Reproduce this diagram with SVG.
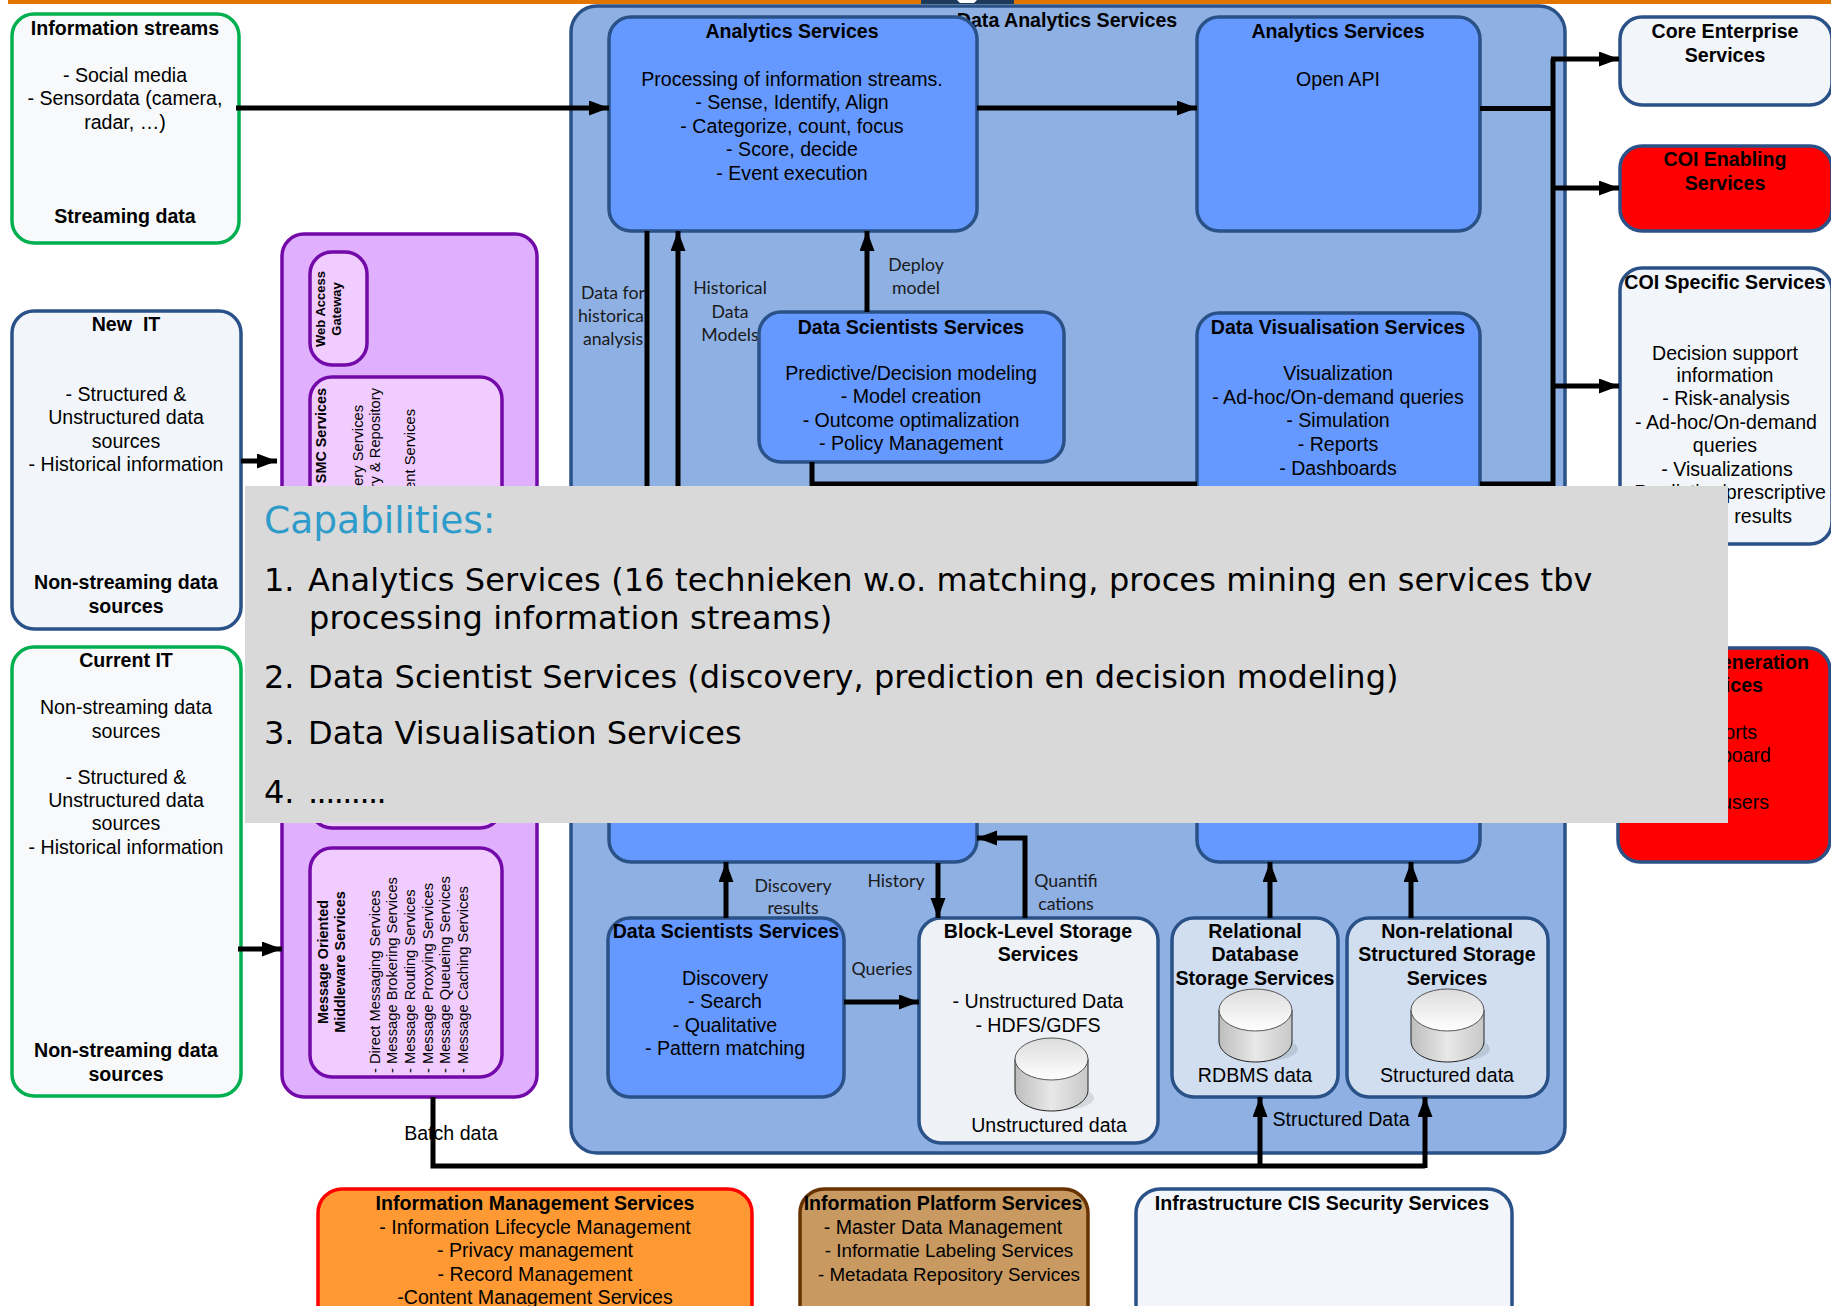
<svg xmlns="http://www.w3.org/2000/svg" width="1831" height="1306" viewBox="0 0 1831 1306">
<style>
text{font-family:"Liberation Sans",Arial,sans-serif;font-size:19.6px;fill:#000;text-anchor:middle}
.b{font-weight:bold;font-size:19.6px}
.e{text-anchor:end}
.l{font-family:Lato,"Liberation Sans",sans-serif;font-size:17.7px;fill:#1a1a1a}
.rb{font-weight:bold;font-size:14.4px}
.rr{font-size:14.7px;text-anchor:start}
.rt{text-anchor:end}
.box{stroke:#2A5288;stroke-width:3.5}
.blue{fill:#6699FF}
.pale{fill:#F2F6FA}
.lp{fill:#F0CCFF;stroke:#7209A8;stroke-width:3.5}
.conn{fill:none;stroke:#000;stroke-width:5}
.ar{marker-end:url(#ah)}
.cap{font-family:"DejaVu Sans",Verdana,sans-serif;text-anchor:start;font-size:32px;fill:#000}
.tight{font-size:18.8px}
</style>
<defs>
<marker id="ah" markerUnits="userSpaceOnUse" markerWidth="21" markerHeight="16" refX="20" refY="7.5" orient="auto"><path d="M0 0L20 7.500L0 15z" fill="#000"/></marker>
<linearGradient id="cb" x1="0" x2="1" y1="0" y2="0"><stop offset="0" stop-color="#bdbdbd"/><stop offset=".5" stop-color="#e8e8e8"/><stop offset="1" stop-color="#c8c8c8"/></linearGradient>
<linearGradient id="ct" x1="0" x2="0" y1="0" y2="1"><stop offset="0" stop-color="#dcdcdc"/><stop offset="1" stop-color="#ffffff"/></linearGradient>
<g id="cyl">
<ellipse cx="46" cy="60" rx="33" ry="12" fill="#000" opacity=".1"/>
<path d="M0 21V52C0 64 16 73 36.500 73S73 64 73 52V21z" fill="url(#cb)" stroke="#222" stroke-width="1"/>
<ellipse cx="36.500" cy="21" rx="36.500" ry="21" fill="url(#ct)" stroke="#555" stroke-width="1"/>
</g>
</defs>
<rect id="top-bar" x="8" y="0" width="1823" height="4" fill="#E27400"/>
<g id="logo"><rect x="921" y="0" width="93" height="4" fill="#1C3B5A"/><path d="M957 0h20l-3 3h-14z" fill="#fff"/></g>

<g id="information-streams"><rect x="12" y="14" width="227" height="229" rx="22" fill="#F7F9FB" stroke="#00B050" stroke-width="3.500"/>
<text x="125" y="35" class="b">Information streams</text><text x="125" y="82">- Social media</text><text x="125" y="105">- Sensordata (camera,</text><text x="125" y="129">radar, …)</text><text x="125" y="223" class="b">Streaming data</text></g>

<g id="new-it"><rect x="12" y="311" width="229" height="318" rx="22" class="box pale"/>
<text x="126" y="331" class="b" xml:space="preserve">New  IT</text><text x="126" y="401">- Structured &amp;</text><text x="126" y="424">Unstructured data</text><text x="126" y="448">sources</text><text x="126" y="471">- Historical information</text><text x="126" y="589" class="b">Non-streaming data</text><text x="126" y="613" class="b">sources</text></g>

<g id="current-it"><rect x="12" y="647" width="229" height="449" rx="22" fill="#F7F9FB" stroke="#00B050" stroke-width="3.500"/>
<text x="126" y="667" class="b">Current IT</text><text x="126" y="714">Non-streaming data</text><text x="126" y="738">sources</text><text x="126" y="784">- Structured &amp;</text><text x="126" y="807">Unstructured data</text><text x="126" y="830">sources</text><text x="126" y="854">- Historical information</text><text x="126" y="1057" class="b">Non-streaming data</text><text x="126" y="1081" class="b">sources</text></g>

<g id="middleware"><rect x="282" y="234" width="255" height="863" rx="22" fill="#E0B0FF" stroke="#7209A8" stroke-width="3.500"/></g>
<g id="web-access-gateway"><rect x="310" y="252" width="57" height="113" rx="22" class="lp"/>
<text transform="translate(325 309) rotate(-90)" class="rb" style="font-size:13px">Web Access</text><text transform="translate(341 309) rotate(-90)" class="rb" style="font-size:13px">Gateway</text></g>
<g id="smc-services"><rect x="310" y="377" width="192" height="451" rx="22" class="lp"/>
<text transform="translate(326 388) rotate(-90)" class="rb rt">SMC Services</text><text transform="translate(363 405) rotate(-90)" class="rr rt">ery Services</text><text transform="translate(380 388) rotate(-90)" class="rr rt">ry &amp; Repository</text><text transform="translate(415 409) rotate(-90)" class="rr rt">ent Services</text></g>
<g id="message-oriented-middleware"><rect x="310" y="848" width="192" height="229" rx="22" class="lp"/>
<text transform="translate(328 962) rotate(-90)" class="rb">Message Oriented</text><text transform="translate(345 962) rotate(-90)" class="rb">Middleware Services</text>
<text transform="translate(380 1073) rotate(-90)" class="rr">- Direct Messaging Services</text><text transform="translate(397 1073) rotate(-90)" class="rr">- Message Brokering Services</text><text transform="translate(415 1073) rotate(-90)" class="rr">- Message Routing Services</text><text transform="translate(433 1073) rotate(-90)" class="rr">- Message Proxying Services</text><text transform="translate(450 1073) rotate(-90)" class="rr">- Message Queueing Services</text><text transform="translate(468 1073) rotate(-90)" class="rr">- Message Caching Services</text></g>

<g id="data-analytics-services"><rect x="571" y="6" width="994" height="1147" rx="26" fill="#8EB0E3" class="box"/>
<text x="1067" y="27" class="b">Data Analytics Services</text></g>

<g id="edge-labels">
<text x="613" y="299" class="l">Data for</text><text x="613" y="322" class="l">historical</text><text x="613" y="345" class="l">analysis</text>
<text x="730" y="294" class="l">Historical</text><text x="730" y="318" class="l">Data</text><text x="730" y="341" class="l">Models</text>
<text x="916" y="271" class="l">Deploy</text><text x="916" y="294" class="l">model</text>
<text x="793" y="892" class="l">Discovery</text><text x="793" y="914" class="l">results</text>
<text x="896" y="887" class="l">History</text>
<text x="1066" y="887" class="l">Quantifi</text><text x="1066" y="910" class="l">cations</text>
<text x="882" y="975" class="l">Queries</text>
<text x="1341" y="1126">Structured Data</text>
<text x="451" y="1140">Batch data</text>
</g>

<g id="analytics-services-1"><rect x="609" y="17" width="368" height="214" rx="22" class="box blue"/>
<text x="792" y="38" class="b">Analytics Services</text><text x="792" y="86">Processing of information streams.</text><text x="792" y="109">- Sense, Identify, Align</text><text x="792" y="133">- Categorize, count, focus</text><text x="792" y="156">- Score, decide</text><text x="792" y="180">- Event execution</text></g>
<g id="analytics-services-2"><rect x="1197" y="17" width="283" height="214" rx="22" class="box blue"/>
<text x="1338" y="38" class="b">Analytics Services</text><text x="1338" y="86">Open API</text></g>
<g id="data-scientists-services-1"><rect x="759" y="312" width="305" height="150" rx="22" class="box blue"/>
<text x="911" y="334" class="b">Data Scientists Services</text><text x="911" y="380">Predictive/Decision modeling</text><text x="911" y="403">- Model creation</text><text x="911" y="427">- Outcome optimalization</text><text x="911" y="450">- Policy Management</text></g>
<g id="data-visualisation-services"><rect x="1197" y="313" width="283" height="220" rx="22" class="box blue"/>
<text x="1338" y="334" class="b">Data Visualisation Services</text><text x="1338" y="380">Visualization</text><text x="1338" y="404">- Ad-hoc/On-demand queries</text><text x="1338" y="427">- Simulation</text><text x="1338" y="451">- Reports</text><text x="1338" y="475">- Dashboards</text></g>
<g id="lower-blue-left"><rect x="609" y="740" width="368" height="122" rx="22" class="box blue"/></g>
<g id="lower-blue-right"><rect x="1197" y="740" width="283" height="122" rx="22" class="box blue"/></g>

<g id="data-scientists-services-2"><rect x="608" y="918" width="236" height="179" rx="22" class="box blue"/>
<text x="726" y="938" class="b">Data Scientists Services</text><text x="725" y="985">Discovery</text><text x="725" y="1008">- Search</text><text x="725" y="1032">- Qualitative</text><text x="725" y="1055">- Pattern matching</text></g>
<g id="block-level-storage"><rect x="919" y="918" width="239" height="225" rx="22" fill="#EEF1F6" class="box"/>
<text x="1038" y="938" class="b">Block-Level Storage</text><text x="1038" y="961" class="b">Services</text><text x="1038" y="1008">- Unstructured Data</text><text x="1038" y="1032">- HDFS/GDFS</text><use href="#cyl" x="1015" y="1038"/><text x="1049" y="1132">Unstructured data</text></g>
<g id="relational-database"><rect x="1172" y="918" width="166" height="179" rx="22" fill="#D0DEF0" class="box"/>
<text x="1255" y="938" class="b">Relational</text><text x="1255" y="961" class="b">Database</text><text x="1255" y="985" class="b">Storage Services</text><use href="#cyl" x="1219" y="989"/><text x="1255" y="1082">RDBMS data</text></g>
<g id="non-relational-storage"><rect x="1347" y="918" width="201" height="179" rx="22" fill="#D0DEF0" class="box"/>
<text x="1447" y="938" class="b">Non-relational</text><text x="1447" y="961" class="b">Structured Storage</text><text x="1447" y="985" class="b">Services</text><use href="#cyl" x="1411" y="989"/><text x="1447" y="1082">Structured data</text></g>

<g id="core-enterprise"><rect x="1620" y="17" width="212" height="88" rx="22" class="box pale"/>
<text x="1725" y="38" class="b">Core Enterprise</text><text x="1725" y="62" class="b">Services</text></g>
<g id="coi-enabling"><rect x="1620" y="146" width="212" height="85" rx="22" fill="#FF0000" class="box"/>
<text x="1725" y="166" class="b">COI Enabling</text><text x="1725" y="190" class="b">Services</text></g>
<g id="coi-specific"><rect x="1620" y="268" width="212" height="276" rx="22" class="box pale"/>
<text x="1725" y="289" class="b">COI Specific Services</text><text x="1725" y="360">Decision support</text><text x="1725" y="382">information</text><text x="1726" y="405">- Risk-analysis</text><text x="1726" y="429">- Ad-hoc/On-demand</text><text x="1725" y="452">queries</text><text x="1727" y="476">- Visualizations</text><text x="1826" y="499" class="e">- Predictive/prescriptive</text><text x="1792" y="523" class="e">results</text></g>
<g id="generation-services"><rect x="1618" y="648" width="212" height="214" rx="22" fill="#FF0000" class="box"/>
<text x="1809" y="669" class="b e">Generation</text><text x="1763" y="692" class="b e">Services</text><text x="1757" y="739" class="e">Reports</text><text x="1771" y="762" class="e">Dashboard</text><text x="1769" y="809" class="e">users</text></g>

<g id="information-management"><rect x="318" y="1189" width="434" height="150" rx="24" fill="#FF9933" stroke="#FF0000" stroke-width="3.500"/>
<text x="535" y="1210" class="b">Information Management Services</text><text x="535" y="1234">- Information Lifecycle Management</text><text x="535" y="1257">- Privacy management</text><text x="535" y="1281">- Record Management</text><text x="535" y="1304">-Content Management Services</text></g>
<g id="information-platform"><rect x="800" y="1189" width="288" height="150" rx="24" fill="#C89960" stroke="#663300" stroke-width="3.500"/>
<text x="943" y="1210" class="b">Information Platform Services</text><text x="943" y="1234">- Master Data Management</text><text x="949" y="1257" class="tight">- Informatie Labeling Services</text><text x="949" y="1281" class="tight">- Metadata Repository Services</text></g>
<g id="infrastructure-cis"><rect x="1136" y="1189" width="376" height="150" rx="24" class="box pale"/>
<text x="1322" y="1210" class="b">Infrastructure CIS Security Services</text></g>

<g id="connectors">
<path class="conn ar" d="M236 108H609"/>
<path class="conn ar" d="M977 108H1197"/>
<path class="conn" d="M1480 108.500H1553"/>
<path class="conn" d="M1553 486V59"/>
<path class="conn ar" d="M1551 59H1619"/>
<path class="conn ar" d="M1553 188H1619"/>
<path class="conn ar" d="M1553 386H1619"/>
<path class="conn" d="M647 231V490"/>
<path class="conn ar" d="M678 490V231"/>
<path class="conn ar" d="M867 312V231"/>
<path class="conn" d="M812 462V484H1197"/>
<path class="conn" d="M1480 484H1553"/>
<path class="conn ar" d="M241 461H277"/>
<path class="conn ar" d="M238 949H282"/>
<path class="conn ar" d="M726 918V862"/>
<path class="conn ar" d="M938 863V918"/>
<path class="conn ar" d="M1025 918V838H977"/>
<path class="conn ar" d="M844 1002H919"/>
<path class="conn ar" d="M1270 918V862"/>
<path class="conn ar" d="M1411 918V862"/>
<path class="conn" d="M433 1097V1166H1425"/>
<path class="conn ar" d="M1260 1166V1097"/>
<path class="conn ar" d="M1425 1168V1097"/>
</g>

<g id="capabilities-panel"><rect x="245" y="486" width="1483" height="337" fill="#D9D9D9"/>
<text x="264" y="533" class="cap" style="font-size:37.5px;fill:#2E9CCA">Capabilities:</text>
<text x="264" y="591" class="cap">1.</text><text x="308" y="591" class="cap" style="letter-spacing:.135px">Analytics Services (16 technieken w.o. matching, proces mining en services tbv</text>
<text x="309" y="629" class="cap" style="letter-spacing:.15px">processing information streams)</text>
<text x="264" y="688" class="cap">2.</text><text x="308" y="688" class="cap">Data Scientist Services (discovery, prediction en decision modeling)</text>
<text x="264" y="744" class="cap">3.</text><text x="308" y="744" class="cap">Data Visualisation Services</text>
<text x="264" y="803" class="cap">4.</text><text x="308" y="803" class="cap" style="letter-spacing:-1.6px">.........</text>
</g>
</svg>
